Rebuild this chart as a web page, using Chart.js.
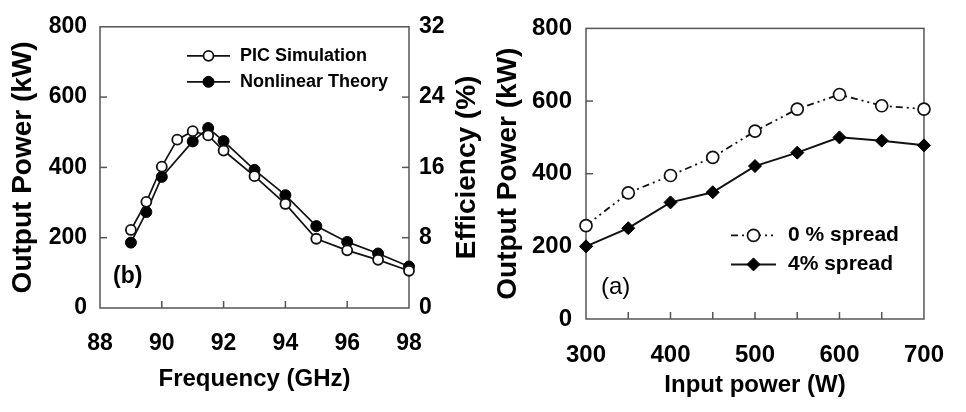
<!DOCTYPE html>
<html lang="en">
<head>
<meta charset="UTF-8">
<title>Output power vs frequency and input power</title>
<script src="https://cdn.jsdelivr.net/npm/chart.js"></script>
<style>
  body { margin: 0; background: #fff; }
  .wrap { display: flex; width: 966px; height: 412px; }
  canvas { display: block; }
</style>
</head>
<body>
<div class="wrap">
  <canvas id="freqChart" width="483" height="412"></canvas>
  <canvas id="inputChart" width="483" height="412"></canvas>
</div>
<script>
// (b) output power vs frequency
const freqPIC = [89, 89.5, 90, 90.5, 91, 91.5, 92, 93, 94, 95, 96, 97, 98];
const powerPIC = [222, 302, 402, 479, 503, 491, 448, 375, 296, 197, 164, 137, 106];
const freqTheory = [89, 89.5, 90, 91, 91.5, 92, 93, 94, 95, 96, 97, 98];
const powerTheory = [186, 273, 373, 474, 512, 475, 393, 321, 233, 188, 155, 118];

// (a) output power vs input power
const inputPower = [300, 350, 400, 450, 500, 550, 600, 650, 700];
const spread0 = [257, 347, 395, 445, 517, 578, 618, 587, 578];
const spread4 = [200, 250, 321, 349, 421, 458, 500, 491, 478];

const FONT = '"Liberation Sans", Arial, sans-serif';
Chart.defaults.font.family = FONT;
Chart.defaults.color = '#000';

function toXY(xs, ys) {
    return xs.map((x, i) => ({ x: x, y: ys[i] }));
}

// frame around the plot + small inward tick marks
const frameTicks = {
    id: 'frameTicks',
    beforeDatasetsDraw(chart) {
        const { ctx, chartArea: a } = chart;
        ctx.save();
        ctx.strokeStyle = '#555';
        ctx.lineWidth = 1.5;
        ctx.strokeRect(a.left, a.top, a.right - a.left, a.bottom - a.top);
        Object.values(chart.scales).forEach(s => {
            s.ticks.forEach(t => {
                if (t.value === s.min || t.value === s.max) return;
                const p = s.getPixelForValue(t.value);
                ctx.beginPath();
                if (s.axis === 'x') {
                    ctx.moveTo(p, a.bottom); ctx.lineTo(p, a.bottom - 7);
                } else if (s.position === 'left') {
                    ctx.moveTo(a.left, p); ctx.lineTo(a.left + 7, p);
                } else {
                    ctx.moveTo(a.right, p); ctx.lineTo(a.right - 7, p);
                }
                ctx.stroke();
            });
        });
        ctx.restore();
    }
};

function drawMarker(ctx, ds, x, y) {
    const r = ds.pointRadius;
    ctx.beginPath();
    if (ds.pointStyle === 'rectRot') {
        ctx.moveTo(x, y - r); ctx.lineTo(x + r, y); ctx.lineTo(x, y + r); ctx.lineTo(x - r, y);
        ctx.closePath();
    } else {
        ctx.arc(x, y, r, 0, Math.PI * 2);
    }
    ctx.fillStyle = ds.pointBackgroundColor;
    ctx.fill();
    ctx.lineWidth = ds.pointBorderWidth;
    ctx.strokeStyle = ds.pointBorderColor;
    ctx.stroke();
}

// legend, panel letter and extra right title drawn inside the chart
const extras = {
    id: 'extras',
    afterDraw(chart, args, opts) {
        const { ctx, chartArea: a } = chart;
        ctx.save();
        const lg = opts.legend;
        if (lg) {
            chart.data.datasets.forEach((ds, i) => {
                const y = a.top + lg.y + i * lg.rowGap;
                const x0 = a.left + lg.x;
                ctx.beginPath();
                ctx.setLineDash(ds.borderDash || []);
                ctx.lineWidth = ds.borderWidth;
                ctx.strokeStyle = ds.borderColor;
                ctx.moveTo(x0, y); ctx.lineTo(x0 + lg.sample, y);
                ctx.stroke();
                ctx.setLineDash([]);
                drawMarker(ctx, ds, x0 + lg.sample / 2, y);
                ctx.fillStyle = '#000';
                ctx.font = lg.font;
                ctx.textAlign = 'left';
                ctx.textBaseline = 'middle';
                ctx.fillText(ds.label, x0 + lg.textX, y);
            });
        }
        const pl = opts.panel;
        if (pl) {
            ctx.fillStyle = '#000';
            ctx.font = pl.font;
            ctx.textAlign = 'left';
            ctx.textBaseline = 'middle';
            ctx.fillText(pl.text, a.left + pl.x, a.bottom - pl.up);
        }
        const rt = opts.rightTitle;
        if (rt) {
            ctx.translate(a.right + rt.offset, (a.top + a.bottom) / 2);
            ctx.rotate(-Math.PI / 2);
            ctx.fillStyle = '#000';
            ctx.font = rt.font;
            ctx.textAlign = 'center';
            ctx.textBaseline = 'middle';
            ctx.fillText(rt.text, 0, 0);
        }
        ctx.restore();
    }
};

const tickFont = size => ({ size: size, weight: 'bold' });
const noGrid = { display: false, drawTicks: false };

// Gráfico (b)
new Chart(document.getElementById('freqChart'), {
    type: 'line',
    data: {
        datasets: [{
            label: 'PIC Simulation',
            data: toXY(freqPIC, powerPIC),
            borderColor: '#111', borderWidth: 1.7,
            pointStyle: 'circle', pointRadius: 5,
            pointBackgroundColor: '#fff', pointBorderColor: '#111', pointBorderWidth: 1.8,
            yAxisID: 'y', clip: false
        }, {
            label: 'Nonlinear Theory',
            data: toXY(freqTheory, powerTheory),
            borderColor: '#111', borderWidth: 1.7,
            pointStyle: 'circle', pointRadius: 5.5,
            pointBackgroundColor: '#000', pointBorderColor: '#000', pointBorderWidth: 1,
            yAxisID: 'y', clip: false
        }]
    },
    options: {
        responsive: false,
        animation: false,
        layout: { padding: { top: 15, left: 0, right: 0, bottom: 0 } },
        plugins: {
            legend: { display: false },
            tooltip: { enabled: false },
            extras: {
                legend: { x: 87, y: 29, rowGap: 26, sample: 43, textX: 53, font: 'bold 18px ' + FONT },
                panel: { text: '(b)', x: 13, up: 31, font: 'bold 23px ' + FONT },
                rightTitle: { text: 'Efficiency (%)', offset: 58, font: 'bold 28px ' + FONT }
            }
        },
        scales: {
            x: {
                type: 'linear', min: 88, max: 98,
                ticks: { stepSize: 2, padding: 22, maxRotation: 0, autoSkip: false, font: tickFont(23) },
                grid: noGrid, border: { display: false },
                title: { display: true, text: 'Frequency (GHz)', font: tickFont(24), padding: { top: 0, bottom: 18 } },
                afterFit(s) { s.height = 104; }
            },
            y: {
                min: 0, max: 800,
                ticks: { stepSize: 200, padding: 13, font: tickFont(23) },
                grid: noGrid, border: { display: false },
                title: { display: true, text: 'Output Power (kW)', font: tickFont(28), padding: { top: 6, bottom: 0 } },
                afterFit(s) { s.width = 100; }
            },
            y2: {
                position: 'right', min: 0, max: 32,
                ticks: { stepSize: 8, padding: 10, font: tickFont(23) },
                grid: noGrid, border: { display: false },
                afterFit(s) { s.width = 74; }
            }
        }
    },
    plugins: [frameTicks, extras]
});

// Gráfico (a)
new Chart(document.getElementById('inputChart'), {
    type: 'line',
    data: {
        datasets: [{
            label: '0 % spread',
            data: toXY(inputPower, spread0),
            borderColor: '#111', borderWidth: 1.8, borderDash: [7, 4, 2, 4, 2, 4],
            pointStyle: 'circle', pointRadius: 6,
            pointBackgroundColor: '#fff', pointBorderColor: '#111', pointBorderWidth: 1.7,
            clip: false
        }, {
            label: '4% spread',
            data: toXY(inputPower, spread4),
            borderColor: '#111', borderWidth: 2,
            pointStyle: 'rectRot', pointRadius: 6.5,
            pointBackgroundColor: '#000', pointBorderColor: '#000', pointBorderWidth: 1,
            clip: false
        }]
    },
    options: {
        responsive: false,
        animation: false,
        layout: { padding: { top: 16, left: 0, right: 26, bottom: 0 } },
        plugins: {
            legend: { display: false },
            tooltip: { enabled: false },
            extras: {
                legend: { x: 145, y: 207, rowGap: 29, sample: 45, textX: 57, font: 'bold 21px ' + FONT },
                panel: { text: '(a)', x: 15, up: 32, font: '24px ' + FONT }
            }
        },
        scales: {
            x: {
                type: 'linear', min: 300, max: 700,
                ticks: {
                    stepSize: 50, padding: 22, maxRotation: 0, autoSkip: false, font: tickFont(24),
                    callback: v => (v % 100 === 0 ? v : '')
                },
                grid: noGrid, border: { display: false },
                title: { display: true, text: 'Input power (W)', font: tickFont(24), padding: { top: 0, bottom: 12 } },
                afterFit(s) { s.height = 93; }
            },
            y: {
                min: 0, max: 800,
                ticks: { stepSize: 200, padding: 14, font: tickFont(24) },
                grid: noGrid, border: { display: false },
                title: { display: true, text: 'Output Power (kW)', font: tickFont(28), padding: { top: 8, bottom: 0 } },
                afterFit(s) { s.width = 103; }
            }
        }
    },
    plugins: [frameTicks, extras]
});
</script>
</body>
</html>
